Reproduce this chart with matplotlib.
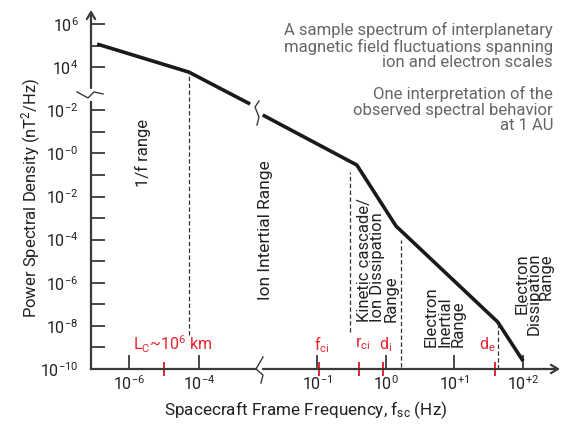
import numpy as np
import matplotlib
matplotlib.use("Agg")
import matplotlib.pyplot as plt
from matplotlib.ticker import NullLocator
from matplotlib.transforms import ScaledTranslation

plt.rcParams['font.family'] = ['Roboto', 'DejaVu Sans']
plt.rcParams['mathtext.fontset'] = 'custom'
plt.rcParams['mathtext.rm'] = 'Roboto'
plt.rcParams['mathtext.default'] = 'regular'

# --- data (log10 values) ---
# low frequency part, left of the break
low_logf = [-6.91, -4.29, -2.54]
low_logpsd = [5.07, 3.77, 2.29]
# high frequency part, right of the break
high_logf = [-1.79, -0.42, 0.15, 1.63, 2.0]
high_logpsd = [1.78, -0.54, -3.37, -7.82, -9.63]

# dashed range separators: (log f, log psd bottom, log psd top)
low_dashes = [(-4.29, -8.42, 3.77)]
high_dashes = [(-0.52, -8.29, -0.86), (0.22, -9.91, -4.02), (1.63, -10.0, -7.82)]

# y ticks (labels as printed on the chart)
ytick_logs = [6, 5, 4, 2, 1, 0, -1, -2, -3, -4, -5, -6, -7, -8, -9, -10]
ytick_labels = ['10$^{6}$', '', '10$^{4}$', '10$^{-2}$', '', '10$^{-0}$', '',
                '10$^{-2}$', '', '10$^{-4}$', '', '10$^{-6}$', '', '10$^{-8}$', '',
                '10$^{-10}$']
low_xticks = [-6, -4]
low_xlabels = ['10$^{-6}$', '10$^{-4}$']
high_xticks = [-1, 0, 1, 2]
high_xlabels = ['10$^{-1}$', '10$^{0}$', '10$^{+1}$', '10$^{+2}$']

# characteristic scales (red markers)
low_marks = [-5.0]
high_marks = [-0.97, -0.39, -0.04, 1.59]
mark_labels_low = [(-4.75, 'L$_C$~10$^6$ km')]
mark_labels_high = [(-0.93, 'f$_{ci}$'), (-0.33, 'r$_{ci}$'), (0.0, 'd$_i$'), (1.48, 'd$_e$')]

AXIS = '#3a3a3a'
RED = '#e8232b'
TXT = '#222222'

fig = plt.figure(figsize=(5.81, 4.28), dpi=100)
W, H = 581.0, 428.0
bottom = (H - 369) / H
height = 359 / H
ax1 = fig.add_axes([91 / W, bottom, 165 / W, height])
ax2 = fig.add_axes([263 / W, bottom, 297 / W, height])

ylim = (1e-10, 10 ** 6.65)
for ax in (ax1, ax2):
    ax.set_xscale('log')
    ax.set_yscale('log')
    ax.set_ylim(*ylim)
    ax.patch.set_visible(False)
    for s in ax.spines.values():
        s.set_visible(False)
    ax.xaxis.set_minor_locator(NullLocator())
    ax.yaxis.set_minor_locator(NullLocator())
    ax.tick_params(axis='x', direction='in', length=10, width=1.3, color=AXIS,
                   labelsize=11.5, labelcolor=TXT, pad=4)

ax1.set_xlim(10 ** -7.086, 10 ** -2.371)
ax2.set_xlim(10 ** -1.786, 10 ** 2.537)

# y axis
ax1.set_yticks([10.0 ** v for v in ytick_logs])
ax1.set_yticklabels(ytick_labels)
ax1.tick_params(axis='y', direction='in', length=10, width=1.3, color=AXIS,
                labelsize=11.5, labelcolor=TXT, pad=9)
ax2.set_yticks([])

ax1.set_xticks([10.0 ** v for v in low_xticks])
ax1.set_xticklabels(low_xlabels)
ax2.set_xticks([10.0 ** v for v in high_xticks])
ax2.set_xticklabels(high_xlabels)

# axis lines
ax1.spines['left'].set_visible(True)
ax1.spines['left'].set_bounds(1e-10, 10 ** 2.38)
ax1.spines['left'].set_color(AXIS)
ax1.spines['left'].set_linewidth(1.6)
ax1.spines['bottom'].set_visible(True)
ax1.spines['bottom'].set_color(AXIS)
ax1.spines['bottom'].set_linewidth(1.6)
ax1.annotate('', xy=(0, 10 ** 6.65), xytext=(0, 10 ** 3.03),
             xycoords=ax1.get_yaxis_transform(),
             arrowprops=dict(arrowstyle='->,head_length=0.5,head_width=0.3',
                             color=AXIS, lw=1.6, shrinkA=0, shrinkB=0))
ax2.annotate('', xy=(1, 0), xytext=(0, 0), xycoords='axes fraction',
             arrowprops=dict(arrowstyle='->,head_length=0.5,head_width=0.3',
                             color=AXIS, lw=1.6, shrinkA=0, shrinkB=0))


def zigzag(ax, x, y, trans, pts):
    """Draw a break mark: pts are pixel offsets from the anchor (x, y)."""
    t = fig.dpi_scale_trans + ScaledTranslation(x, y, trans)
    xs = [p[0] / 100.0 for p in pts]
    ys = [p[1] / 100.0 for p in pts]
    ax.plot(xs, ys, color=AXIS, lw=1.0, transform=t, clip_on=False)


zigzag(ax1, 0, 10 ** 2.71, ax1.get_yaxis_transform(),
       [(-14, 3), (-3, -3), (3, 3), (12, 1)])
zigzag(ax1, 1, 10 ** 2.01, ax1.get_yaxis_transform(),
       [(3, 9), (-1, 3), (3, -7), (1, -15)])
zigzag(ax1, 1, 0, ax1.transAxes,
       [(7, 12), (0, 0), (7, -6), (5, -14)])

# spectrum
ax1.plot(10.0 ** np.array(low_logf), 10.0 ** np.array(low_logpsd),
         color='#1a1a1a', lw=2.6, solid_capstyle='butt', clip_on=False)
ax2.plot(10.0 ** np.array(high_logf), 10.0 ** np.array(high_logpsd),
         color='#1a1a1a', lw=2.6, solid_capstyle='butt', clip_on=False)

# dashed separators
for ax, dashes in ((ax1, low_dashes), (ax2, high_dashes)):
    for lf, lo, hi in dashes:
        ax.plot([10 ** lf, 10 ** lf], [10 ** lo, 10 ** hi], color='#333333',
                lw=0.9, ls=(0, (3.5, 2)), clip_on=False)

# red markers and labels
for ax, marks, labels in ((ax1, low_marks, mark_labels_low),
                          (ax2, high_marks, mark_labels_high)):
    for m in marks:
        ax.plot([10 ** m], [1e-10], marker='|', markersize=9.5, mew=1.4,
                color=RED, clip_on=False, ls='none')
    for lf, lab in labels:
        ax.text(10 ** lf, 10 ** -8.85, lab, color=RED, fontsize=11.5,
                ha='center', va='center')

# range labels
ax1.text(10 ** -5.6, 10 ** 0.02, '1/f range', rotation=90, fontsize=12,
         ha='center', va='center', color=TXT)
ax2.text(10 ** -1.75, 10 ** -3.55, 'Ion Intertial Range', rotation=90,
         fontsize=12.5, ha='center', va='center', color=TXT)
ax2.text(10 ** -0.12, 10 ** -7.82, 'Kinetic cascade/\nIon Dissipation\nRange',
         rotation=90, fontsize=12, ha='center', va='bottom', color=TXT,
         multialignment='left', linespacing=0.85)
ax2.text(10 ** 0.86, 10 ** -8.98, 'Electron\nInertial\nRange', rotation=90,
         fontsize=12, ha='center', va='bottom', color=TXT,
         multialignment='left', linespacing=0.85)
ax2.text(10 ** 2.16, 10 ** -4.62, 'Electron\nDissipation\nRange', rotation=90,
         fontsize=12, ha='center', va='top', color=TXT,
         multialignment='right', linespacing=0.78)

# annotation text block
fig.text(553 / W, 1 - 22 / H,
         'A sample spectrum of interplanetary\nmagnetic field fluctuations spanning\n'
         'ion and electron scales\n\nOne interpretation of the\n'
         'observed spectral behavior\nat 1 AU',
         ha='right', va='top', fontsize=12, color='#666666', linespacing=1.04)

# axis titles
fig.text(31 / W, 1 - 198 / H, 'Power Spectral Density (nT$^2$/Hz)', rotation=90,
         ha='center', va='center', fontsize=12, color=TXT)
fig.text(306 / W, 1 - 410 / H, 'Spacecraft Frame Frequency, f$_{sc}$ (Hz)',
         ha='center', va='center', fontsize=12.3, color=TXT)

fig.savefig('out.png', dpi=100)
